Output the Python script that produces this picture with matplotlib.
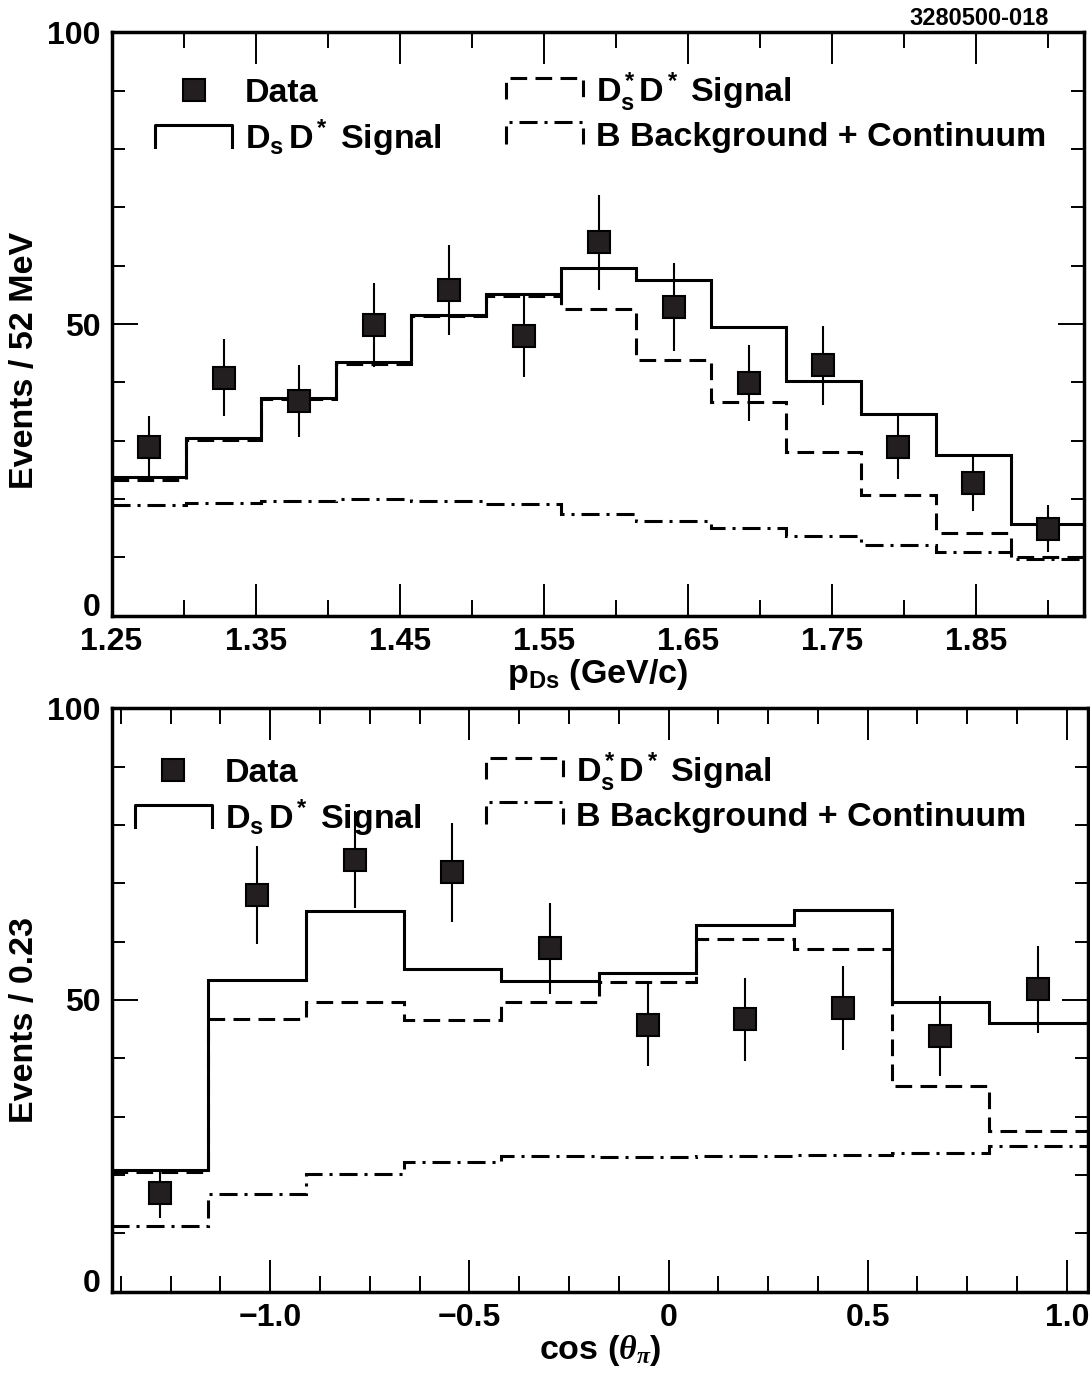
import numpy as np
import matplotlib
matplotlib.use("Agg")
import matplotlib.pyplot as plt
from matplotlib.lines import Line2D
from matplotlib.legend_handler import HandlerBase

# --- top panel: p(Ds) spectrum, 52 MeV bins ---
p_edges = [1.250, 1.302, 1.354, 1.406, 1.458, 1.510, 1.562,
           1.614, 1.666, 1.718, 1.770, 1.822, 1.874, 1.926]
p_data = [28.9, 40.8, 36.8, 49.9, 55.9, 47.9, 64.0, 52.9, 39.9, 42.9, 28.9, 22.8, 14.9]
p_err = [5.4, 6.6, 6.2, 7.2, 7.7, 7.0, 8.1, 7.5, 6.5, 6.7, 5.5, 4.9, 4.0]
p_total = [23.7, 30.4, 37.4, 43.5, 51.6, 55.2, 59.6, 57.6, 49.5, 40.2, 34.5, 27.6, 15.8]
p_dsstar = [23.3, 30.1, 37.1, 43.2, 51.3, 54.8, 52.5, 43.8, 36.6, 28.1, 20.7, 14.2, 10.0]
p_bkg = [18.9, 19.4, 19.7, 20.0, 19.7, 19.1, 17.5, 16.2, 15.0, 13.6, 12.2, 11.0, 9.8]
p_ticks = [1.25, 1.35, 1.45, 1.55, 1.65, 1.75, 1.85]
p_ticklabels = ["1.25", "1.35", "1.45", "1.55", "1.65", "1.75", "1.85"]
p_minor = [1.30, 1.40, 1.50, 1.60, 1.70, 1.80, 1.90]

# --- bottom panel: cos(theta_pi) ---
c_edges = [-1.400, -1.155, -0.910, -0.665, -0.420, -0.175,
           0.070, 0.315, 0.560, 0.805, 1.050]
c_data = [16.9, 68.0, 74.0, 71.9, 58.9, 45.7, 46.7, 48.7, 43.8, 51.8]
c_err = [4.2, 8.4, 8.3, 8.5, 7.8, 7.0, 7.1, 7.2, 6.9, 7.4]
c_total = [20.9, 53.4, 65.3, 55.3, 53.3, 54.7, 62.9, 65.5, 49.7, 46.0]
c_dsstar = [20.5, 46.7, 49.6, 46.6, 49.6, 53.1, 60.4, 58.7, 35.3, 27.5]
c_bkg = [11.3, 16.7, 20.1, 22.2, 23.3, 23.1, 23.2, 23.5, 23.7, 25.0]
c_ticks = [-1.0, -0.5, 0.0, 0.5, 1.0]
c_ticklabels = ["\u22121.0", "\u22120.5", "0", "0.5", "1.0"]
c_minor = np.arange(-1.375, 1.01, 0.125)

y_ticks = [0, 50, 100]
y_minor = np.arange(0, 101, 10)

legend_labels = ["Data", r"$\mathbf{D_s\,D^*}$ Signal",
                 r"$\mathbf{D_s^*D^*}$ Signal", "B Background + Continuum"]

plt.rcParams['font.family'] = ['Liberation Sans', 'DejaVu Sans']
plt.rcParams['font.weight'] = 'bold'
plt.rcParams['axes.labelweight'] = 'bold'
plt.rcParams['mathtext.fontset'] = 'custom'
plt.rcParams['mathtext.rm'] = 'Liberation Sans:bold'
plt.rcParams['mathtext.bf'] = 'Liberation Sans:bold'
plt.rcParams['mathtext.it'] = 'Liberation Serif:italic'

LW = 2.2
MS = 15.5
SQ = '#231f20'
dash = (0, (12 / LW, 6 / LW))
dashdot = (0, (13 / LW, 5 / LW, 2.2 / LW, 5 / LW))
FS = 23      # tick labels
LFS = 24.5   # axis labels / legend


class BracketHandler(HandlerBase):
    # histogram legend key: a line with short legs hanging down
    def create_artists(self, legend, orig_handle, xdescent, ydescent,
                       width, height, fontsize, trans):
        x0, x1 = -xdescent, width - xdescent
        top = -ydescent + height * 1.0
        bot = -ydescent + height * 0.1
        line = Line2D([x0, x0, x1, x1], [bot, top, top, bot])
        self.update_prop(line, orig_handle, legend)
        line.set_transform(trans)
        return [line]


def draw_panel(ax, edges, data, err, total, dsstar, bkg):
    edges = np.asarray(edges)
    centers = 0.5 * (edges[1:] + edges[:-1])
    ax.stairs(bkg, edges, baseline=None, color='k', lw=LW, linestyle=dashdot)
    ax.stairs(dsstar, edges, baseline=None, color='k', lw=LW, linestyle=dash)
    ax.stairs(total, edges, baseline=None, color='k', lw=LW)
    ax.errorbar(centers, data, yerr=err, fmt='s', ms=MS, mfc=SQ, mec='k',
                mew=1.5, ecolor='k', elinewidth=1.5, capsize=0, zorder=5)


def style_axes(ax, xlim, ticks, labels, minor):
    ax.set_xlim(xlim)
    ax.set_ylim(0, 100)
    ax.set_xticks(ticks)
    ax.set_xticklabels(labels)
    ax.set_xticks(minor, minor=True)
    ax.set_yticks(y_ticks)
    ax.set_yticklabels([str(v) for v in y_ticks])
    ax.set_yticks(y_minor, minor=True)
    ax.tick_params(which='both', direction='in', top=True, right=True,
                   width=1.4, labelsize=FS, pad=8)
    ax.tick_params(axis='x', which='major', length=23)
    ax.tick_params(axis='x', which='minor', length=11.5)
    ax.tick_params(axis='y', which='major', length=19)
    ax.tick_params(axis='y', which='minor', length=9.5)
    for s in ax.spines.values():
        s.set_linewidth(2.5)
    # zero label sits on the axis line
    ax.get_yticklabels()[0].set_va('baseline')


def add_legend(ax, anchor):
    handles = [
        Line2D([], [], ls='none', marker='s', ms=MS, mfc=SQ, mec='k', mew=1.5),
        Line2D([], [], color='k', lw=LW),
        Line2D([], [], color='k', lw=LW, ls=dash),
        Line2D([], [], color='k', lw=LW, ls=dashdot),
    ]
    hmap = {h: BracketHandler() for h in handles[1:]}
    ax.legend(handles, legend_labels, ncol=2, loc='upper left',
              bbox_to_anchor=anchor, frameon=False, fontsize=LFS,
              handlelength=2.25, handletextpad=0.38, columnspacing=1.9,
              labelspacing=0.25, borderpad=0, borderaxespad=0,
              handler_map=hmap)


fig = plt.figure(figsize=(10.9, 13.76), dpi=100)
ax1 = fig.add_axes([0.1023, 0.5525, 0.8925, 0.424])
ax2 = fig.add_axes([0.1025, 0.0613, 0.8954, 0.424])

draw_panel(ax1, p_edges, p_data, p_err, p_total, p_dsstar, p_bkg)
style_axes(ax1, (1.25, 1.925), p_ticks, p_ticklabels, p_minor)
ax1.set_xlabel(r"$\mathbf{p_{Ds}}$ (GeV/c)", fontsize=LFS, labelpad=0)
ax1.set_ylabel("Events / 52 MeV", fontsize=LFS)
ax1.yaxis.set_label_coords(-0.073, 0.437)
add_legend(ax1, (0.045, 0.935))

draw_panel(ax2, c_edges, c_data, c_err, c_total, c_dsstar, c_bkg)
style_axes(ax2, (-1.3977, 1.0523), c_ticks, c_ticklabels, c_minor)
ax2.set_xlabel(r"cos ($\theta_\pi$)", fontsize=LFS, labelpad=0)
ax2.set_ylabel("Events / 0.23", fontsize=LFS)
ax2.yaxis.set_label_coords(-0.073, 0.466)
add_legend(ax2, (0.024, 0.928))

fig.text(0.9624, 0.9866, "3280500-018", ha='right', va='center', fontsize=17)

fig.savefig("out.png", dpi=100)
